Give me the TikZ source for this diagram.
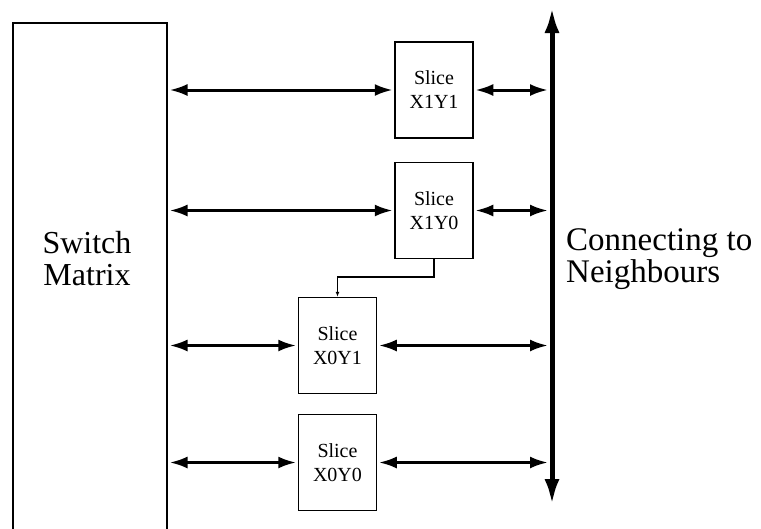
\documentclass[tikz,border=0pt]{standalone}
\usepackage{fontspec}
\setmainfont{Liberation Serif}
\usetikzlibrary{arrows.meta}
\begin{document}
\begin{tikzpicture}[x=1pt,y=-1pt,
  slicebox/.style={draw,line width=1.5pt,minimum width=78pt,minimum height=96pt,inner sep=0pt,
    align=center,font=\fontsize{20}{24}\selectfont},
  biarrow/.style={line width=3pt,{Latex[length=18pt,width=12pt]}-{Latex[length=18pt,width=12pt]},
    shorten <=1.5pt,shorten >=1.5pt},
  bigtext/.style={font=\fontsize{32}{32}\selectfont,inner sep=0pt}]
\useasboundingbox (0,0) rectangle (761,528);
% switch matrix (open at the bottom, runs off the picture)
\node[draw,line width=2pt,minimum width=154pt,minimum height=518pt,inner sep=0pt,anchor=north west] (SM) at (12,22) {};
\node[bigtext,align=center] (SMlabel) at (87,259) {Switch\\Matrix};
% bus
\coordinate (busTop) at (552,7);
\coordinate (busBot) at (552,505);
\draw[line width=5pt,{Latex[length=26pt,width=15pt]}-{Latex[length=26pt,width=15pt]}] (busBot) -- (busTop);
\node[bigtext,align=left,anchor=west,font=\fontsize{33}{32}\selectfont] (conn) at (566,259) {Connecting to\\Neighbours};
% slices
\node[slicebox] (X1Y1) at (434,90) {Slice\\X1Y1};
\node[slicebox] (X1Y0) at (434,210.5) {Slice\\X1Y0};
\node[slicebox] (X0Y1) at (337.5,345.5) {Slice\\X0Y1};
\node[slicebox] (X0Y0) at (337.5,462.5) {Slice\\X0Y0};
% arrows
\foreach \s in {X1Y1,X1Y0,X0Y1,X0Y0}{
  \draw[biarrow] (SM.east |- \s.west) -- (\s.west);
  \draw[biarrow] (\s.east) -- ([xshift=-2.5pt]busTop |- \s.east);
}
% carry connector
\coordinate (bend) at (434,277);
\draw[line width=1.3pt,-{Latex[length=5pt,width=4pt]}] (X1Y0.south) -- (bend) -- (bend -| X0Y1.north) -- (X0Y1.north);
\end{tikzpicture}
\end{document}
